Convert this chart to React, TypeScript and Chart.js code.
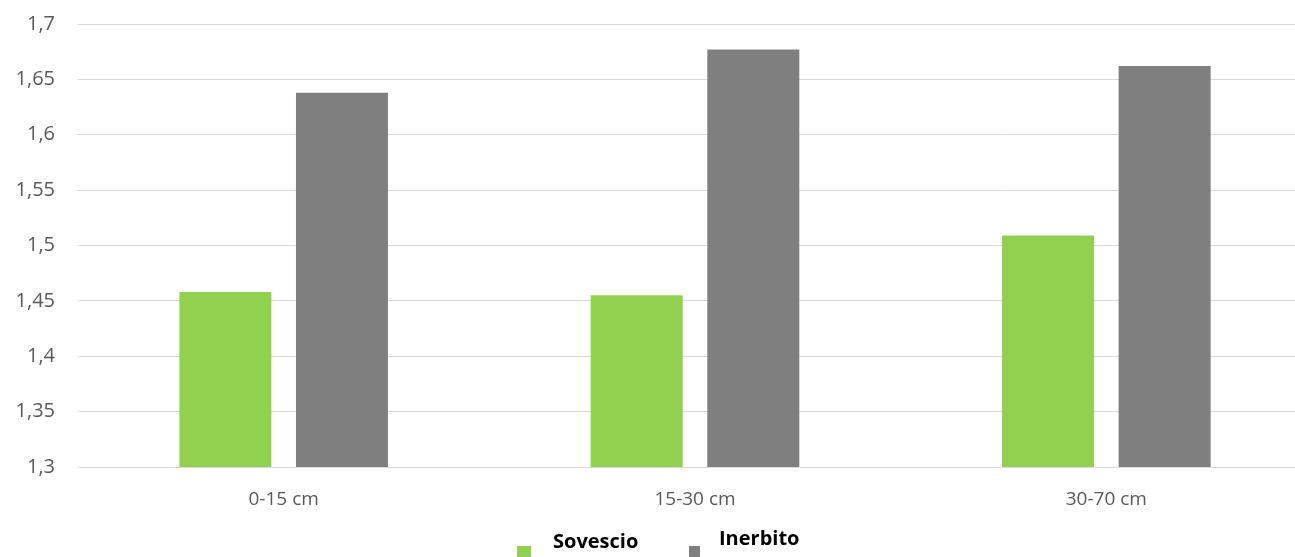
import React, { useEffect, useRef } from "react";
import { Chart, registerables } from "chart.js";

Chart.register(...registerables);

// Soil depth classes on the x axis
const categories = ["0-15 cm", "15-30 cm", "30-70 cm"];

// Series names and values per depth class
const seriesNames = ["Sovescio", "Inerbito"];
const sovescioValues = [1.458, 1.455, 1.509];
const inerbitoValues = [1.638, 1.677, 1.662];
const seriesColors = ["#92d050", "#7f7f7f"];

// Value axis range
const yMin = 1.3;
const yMax = 1.7;
const yStep = 0.05;

const CANVAS_W = 1330;
const CANVAS_H = 557;

const formatTick = (v: number) =>
  String(Math.round(v * 100) / 100).replace(".", ",");

// Legend drawn under the axis: a small square with the series name beside it
const bottomLegend = {
  id: "bottomLegend",
  afterDraw(chart: any) {
    const ctx = chart.ctx as CanvasRenderingContext2D;
    const spots = [
      { bx: 517, by: 546, bw: 14, tx: 553, ty: 548 },
      { bx: 689, by: 546, bw: 11, tx: 719, ty: 545 },
    ];
    ctx.save();
    chart.data.datasets.forEach((ds: any, i: number) => {
      const s = spots[i];
      if (!s) return;
      ctx.fillStyle = ds.backgroundColor;
      ctx.fillRect(s.bx, s.by, s.bw, s.bw);
      ctx.fillStyle = "#000000";
      ctx.font = "bold 20px 'Open Sans', sans-serif";
      ctx.textBaseline = "alphabetic";
      ctx.textAlign = "left";
      ctx.fillText(ds.label, s.tx, s.ty);
    });
    ctx.restore();
  },
};

export default function App() {
  const canvasRef = useRef<HTMLCanvasElement | null>(null);

  useEffect(() => {
    if (!canvasRef.current) return;
    const chart = new Chart(canvasRef.current, {
      type: "bar",
      data: {
        labels: categories,
        datasets: [
          {
            label: seriesNames[0],
            data: sovescioValues,
            backgroundColor: seriesColors[0],
            categoryPercentage: 0.567,
            barPercentage: 0.789,
          },
          {
            label: seriesNames[1],
            data: inerbitoValues,
            backgroundColor: seriesColors[1],
            categoryPercentage: 0.567,
            barPercentage: 0.789,
          },
        ],
      },
      options: {
        responsive: false,
        animation: false,
        layout: { padding: { top: 24, right: 18, bottom: 0, left: 0 } },
        plugins: {
          legend: { display: false },
          tooltip: { enabled: false },
        },
        scales: {
          x: {
            grid: { display: false, drawTicks: false },
            border: { display: true, color: "#d9d9d9", width: 1 },
            ticks: {
              color: "#595959",
              font: { family: "'Open Sans', sans-serif", size: 19 },
              padding: 21,
            },
            afterFit: (scale: any) => {
              scale.height = 90;
              scale.paddingLeft = 0;
              scale.paddingRight = 0;
            },
          },
          y: {
            min: yMin,
            max: yMax,
            grid: { color: "#d9d9d9", lineWidth: 1, drawTicks: false },
            border: { display: false },
            ticks: {
              stepSize: yStep,
              color: "#595959",
              font: { family: "'Open Sans', sans-serif", size: 20 },
              padding: 23,
              callback: (v: any) => formatTick(Number(v)),
            },
            afterFit: (scale: any) => {
              scale.width = 78;
              scale.paddingTop = 0;
              scale.paddingBottom = 0;
            },
          },
        },
      },
      plugins: [bottomLegend],
    });
    return () => chart.destroy();
  }, []);

  return (
    <div
      style={{
        position: "fixed",
        left: 0,
        top: 0,
        width: 1295,
        height: 557,
        overflow: "hidden",
        background: "#ffffff",
      }}
    >
      <canvas ref={canvasRef} width={CANVAS_W} height={CANVAS_H} />
    </div>
  );
}
